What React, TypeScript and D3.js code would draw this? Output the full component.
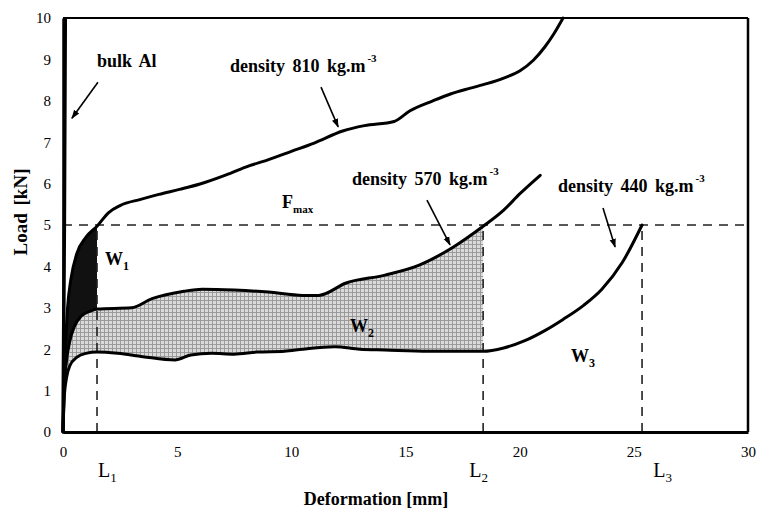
import React, { useEffect, useRef } from 'react';
import * as d3 from 'd3';

// ---- data (x: deformation mm, y: load kN) ----
const xTicks = [0, 5, 10, 15, 20, 25, 30];
const yTicks = [0, 1, 2, 3, 4, 5, 6, 7, 8, 9, 10];

const bulkAl: [number, number][] = [[0, 0], [0.06, 5], [0.1, 10]];

const density810: [number, number][] = [
  [0, 0], [0.05, 1.2], [0.12, 2.2], [0.2, 3], [0.35, 3.7], [0.6, 4.3], [1.0, 4.7], [1.49, 4.97],
  [2.0, 5.3], [2.5, 5.47], [3.4, 5.62], [4.2, 5.74], [5.1, 5.86], [6.0, 5.99], [7.0, 6.18],
  [8.0, 6.4], [9.0, 6.58], [10.0, 6.78], [11.0, 6.98], [12.25, 7.27], [13.2, 7.4], [14.5, 7.5],
  [15.2, 7.76], [16.2, 8.0], [17.0, 8.17], [17.8, 8.3], [18.6, 8.42], [19.3, 8.55], [20.0, 8.72],
  [20.6, 8.98], [21.1, 9.3], [21.5, 9.62], [21.9, 10],
];

const density570: [number, number][] = [
  [0, 0], [0.05, 1.0], [0.15, 1.7], [0.3, 2.2], [0.5, 2.55], [0.8, 2.8], [1.2, 2.92], [1.49, 2.97],
  [3.0, 3.0], [3.9, 3.22], [5.3, 3.4], [6.1, 3.45], [7.5, 3.43], [9.0, 3.38], [10.5, 3.3],
  [11.2, 3.3], [12.4, 3.6], [14.1, 3.79], [15.6, 4.03], [17.1, 4.47], [18.4, 4.97], [19.3, 5.36],
  [20.0, 5.75], [20.9, 6.2],
];

const density440: [number, number][] = [
  [0, 0], [0.05, 0.8], [0.15, 1.3], [0.3, 1.6], [0.6, 1.8], [1.0, 1.9], [1.49, 1.93], [2.4, 1.9],
  [3.5, 1.82], [4.9, 1.74], [5.6, 1.86], [6.5, 1.9], [7.5, 1.88], [8.5, 1.93], [9.7, 1.95],
  [10.5, 2.0], [11.9, 2.06], [13.0, 2.0], [14.1, 1.98], [16.0, 1.95], [18.4, 1.95], [19.3, 2.03],
  [20.2, 2.2], [21.1, 2.45], [21.9, 2.72], [22.8, 3.06], [23.6, 3.45], [24.5, 4.1], [25.36, 5.0],
];

const fMax = 5;
const L1 = 1.49;
const L2 = 18.4;
const L3 = 25.36;

// annotation texts (anchor in data units)
const curveLabels = [
  { text: 'bulk Al', sup: '', x: 1.49, y: 8.82 },
  { text: 'density 810 kg.m', sup: '-3', x: 7.31, y: 8.7 },
  { text: 'density 570 kg.m', sup: '-3', x: 12.66, y: 5.97 },
  { text: 'density 440 kg.m', sup: '-3', x: 21.68, y: 5.8 },
];
const arrows = [
  { x0: 1.53, y0: 8.45, x1: 0.39, y1: 7.58 },
  { x0: 11.3, y0: 8.33, x1: 12.05, y1: 7.37 },
  { x0: 15.94, y0: 5.6, x1: 16.95, y1: 4.52 },
  { x0: 23.65, y0: 5.41, x1: 24.18, y1: 4.47 },
];
const workLabels = [
  { main: 'W', sub: '1', x: 1.84, y: 4.03 },
  { main: 'W', sub: '2', x: 12.57, y: 2.42 },
  { main: 'W', sub: '3', x: 22.25, y: 1.69 },
];
const lengthLabels = [
  { main: 'L', sub: '1', x: L1 },
  { main: 'L', sub: '2', x: L2 - 0.65 },
  { main: 'L', sub: '3', x: L3 + 0.45 },
];

const W = 758;
const H = 513;

export default function App() {
  const ref = useRef<SVGSVGElement | null>(null);

  useEffect(() => {
    const svg = d3.select(ref.current);
    svg.selectAll('*').remove();

    const x = d3.scaleLinear().domain([0, 30]).range([63, 748]);
    const y = d3.scaleLinear().domain([0, 10]).range([432, 18]);
    const serif = '"Liberation Serif", "Times New Roman", serif';

    const defs = svg.append('defs');
    const pat = defs.append('pattern').attr('id', 'grid').attr('width', 4).attr('height', 4)
      .attr('patternUnits', 'userSpaceOnUse');
    pat.append('rect').attr('width', 4).attr('height', 4).attr('fill', '#dadada');
    pat.append('path').attr('d', 'M0,0.5H4M0.5,0V4').attr('stroke', '#959595').attr('stroke-width', 0.9);

    defs.append('clipPath').attr('id', 'clipL1').append('rect')
      .attr('x', x(0)).attr('y', y(10)).attr('width', x(L1) - x(0)).attr('height', y(0) - y(10));
    defs.append('clipPath').attr('id', 'clipL2').append('rect')
      .attr('x', x(0)).attr('y', y(10)).attr('width', x(L2) - x(0)).attr('height', y(0) - y(10));

    defs.append('marker').attr('id', 'arr').attr('viewBox', '0 0 10 10').attr('refX', 9).attr('refY', 5)
      .attr('markerWidth', 9).attr('markerHeight', 9).attr('markerUnits', 'userSpaceOnUse')
      .attr('orient', 'auto').append('path').attr('d', 'M0,1.5L10,5L0,8.5Z').attr('fill', '#000');

    const curve = d3.curveMonotoneX;
    const line = d3.line<[number, number]>().x(d => x(d[0])).y(d => y(d[1])).curve(curve);
    const area = d3.area<[number, number]>().x(d => x(d[0])).y0(y(0)).y1(d => y(d[1])).curve(curve);

    // fills
    svg.append('path').attr('d', area(density810)).attr('fill', '#111').attr('clip-path', 'url(#clipL1)');
    svg.append('path').attr('d', area(density570)).attr('fill', 'url(#grid)').attr('clip-path', 'url(#clipL2)');
    svg.append('path').attr('d', area(density440)).attr('fill', '#fff');

    // dashed guides
    const dash = { stroke: '#222', w: 1.6, da: '9,7' };
    svg.append('line').attr('x1', x(0)).attr('x2', x(30)).attr('y1', y(fMax)).attr('y2', y(fMax))
      .attr('stroke', dash.stroke).attr('stroke-width', dash.w).attr('stroke-dasharray', dash.da);
    [L1, L2, L3].forEach(l => {
      svg.append('line').attr('x1', x(l)).attr('x2', x(l)).attr('y1', y(0)).attr('y2', y(fMax))
        .attr('stroke', dash.stroke).attr('stroke-width', dash.w).attr('stroke-dasharray', dash.da);
    });

    // curves
    [density810, density570, density440].forEach(d => {
      svg.append('path').attr('d', line(d)).attr('fill', 'none').attr('stroke', '#000')
        .attr('stroke-width', 3).attr('stroke-linejoin', 'round').attr('stroke-linecap', 'round');
    });
    svg.append('path').attr('d', d3.line<[number, number]>().x(d => x(d[0])).y(d => y(d[1]))(bulkAl))
      .attr('fill', 'none').attr('stroke', '#000').attr('stroke-width', 3.5);

    // frame
    svg.append('line').attr('x1', x(0)).attr('x2', x(30)).attr('y1', y(10)).attr('y2', y(10))
      .attr('stroke', '#000').attr('stroke-width', 2.2);
    svg.append('line').attr('x1', x(30)).attr('x2', x(30)).attr('y1', y(10)).attr('y2', y(0))
      .attr('stroke', '#000').attr('stroke-width', 2.5);

    // axes
    const gx = svg.append('g').attr('transform', `translate(0,${y(0)})`)
      .call(d3.axisBottom(x).tickValues(xTicks).tickSize(0).tickPadding(14).tickFormat(d3.format('d')));
    gx.select('.domain').attr('stroke', '#000').attr('stroke-width', 3);
    gx.selectAll('text').attr('font-family', serif).attr('font-size', 15).attr('fill', '#000');

    const gy = svg.append('g').attr('transform', `translate(${x(0)},0)`)
      .call(d3.axisLeft(y).tickValues(yTicks).tickSize(0).tickPadding(12).tickFormat(d3.format('d')));
    gy.select('.domain').attr('stroke', '#000').attr('stroke-width', 2.5);
    gy.selectAll('text').attr('font-family', serif).attr('font-size', 15).attr('fill', '#000');

    // axis titles
    svg.append('text').attr('x', 376).attr('y', 505).attr('text-anchor', 'middle')
      .attr('font-family', serif).attr('font-size', 18).attr('font-weight', 'bold').text('Deformation [mm]');
    svg.append('text').attr('transform', `translate(27,212) rotate(-90)`).attr('text-anchor', 'middle')
      .attr('font-family', serif).attr('font-size', 19).attr('font-weight', 'bold')
      .attr('word-spacing', 3).text('Load [kN]');

    // curve labels
    curveLabels.forEach(c => {
      const t = svg.append('text').attr('x', x(c.x)).attr('y', y(c.y))
        .attr('font-family', serif).attr('font-size', 18).attr('font-weight', 'bold')
        .attr('word-spacing', 3);
      t.append('tspan').text(c.text);
      if (c.sup) t.append('tspan').attr('dy', -10).attr('dx', 2).attr('font-size', 11).text(c.sup);
    });
    arrows.forEach(a => {
      svg.append('line').attr('x1', x(a.x0)).attr('y1', y(a.y0)).attr('x2', x(a.x1)).attr('y2', y(a.y1))
        .attr('stroke', '#000').attr('stroke-width', 1.6).attr('marker-end', 'url(#arr)');
    });

    // F max
    const f = svg.append('text').attr('x', x(9.59)).attr('y', y(5.41))
      .attr('font-family', serif).attr('font-size', 18).attr('font-weight', 'bold');
    f.append('tspan').text('F');
    f.append('tspan').attr('dy', 5).attr('font-size', 11).text('max');

    workLabels.forEach(w => {
      const t = svg.append('text').attr('x', x(w.x)).attr('y', y(w.y))
        .attr('font-family', serif).attr('font-size', 18).attr('font-weight', 'bold');
      t.append('tspan').text(w.main);
      t.append('tspan').attr('dy', 5).attr('font-size', 12).text(w.sub);
    });

    lengthLabels.forEach(l => {
      const t = svg.append('text').attr('x', x(l.x) + 1).attr('y', 477)
        .attr('font-family', serif).attr('font-size', 20);
      t.append('tspan').text(l.main);
      t.append('tspan').attr('dy', 5).attr('font-size', 13).text(l.sub);
    });
  }, []);

  return (
    <svg ref={ref} width={W} height={H}
      style={{ position: 'absolute', left: 0, top: 0, background: '#fff' }} />
  );
}
